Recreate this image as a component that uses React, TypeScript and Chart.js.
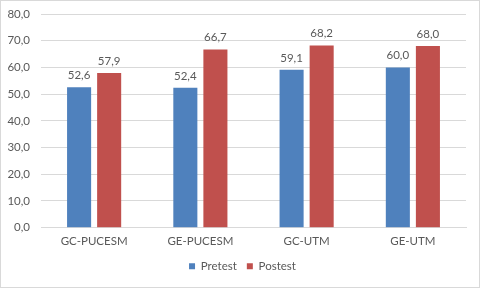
import React, { useEffect, useRef } from "react";
import { Chart, registerables } from "chart.js";

Chart.register(...registerables);

const categories = ["GC-PUCESM", "GE-PUCESM", "GC-UTM", "GE-UTM"];
const pretest = [52.6, 52.4, 59.1, 60.0];
const postest = [57.9, 66.7, 68.2, 68.0];
const seriesNames = ["Pretest", "Postest"];

const FONT = "Lato, 'Open Sans', sans-serif";
const FS = 11.5;
const TEXT = "#595959";
const fmt = (v: number) => v.toFixed(1).replace(".", ",");

const labelsPlugin = {
  id: "valueLabels",
  afterDatasetsDraw(chart: any) {
    const ctx = chart.ctx;
    ctx.save();
    ctx.font = `${FS}px ${FONT}`;
    ctx.fillStyle = TEXT;
    ctx.textAlign = "center";
    ctx.textBaseline = "bottom";
    chart.data.datasets.forEach((ds: any, i: number) => {
      const meta = chart.getDatasetMeta(i);
      meta.data.forEach((bar: any, j: number) => {
        ctx.fillText(fmt(ds.data[j]), bar.x, bar.y - 6);
      });
    });
    ctx.restore();
  },
};

const bgPlugin = {
  id: "bgBorder",
  beforeDraw(chart: any) {
    const ctx = chart.ctx;
    ctx.save();
    ctx.fillStyle = "#ffffff";
    ctx.fillRect(0, 0, chart.width, chart.height);
    ctx.strokeStyle = "#d9d9d9";
    ctx.lineWidth = 1;
    ctx.strokeRect(0.5, 0.5, chart.width - 1, chart.height - 1);
    ctx.restore();
  },
};

// centre the legend on the whole picture rather than the padded box
const legendShiftPlugin = {
  id: "legendShift",
  afterLayout(chart: any) {
    if (chart.legend) chart.legend.left += 19;
  },
};

export default function App() {
  const ref = useRef<HTMLCanvasElement>(null);
  useEffect(() => {
    document.body.style.margin = "0";
    const chart = new Chart(ref.current!, {
      type: "bar",
      data: {
        labels: categories,
        datasets: [
          {
            label: seriesNames[0],
            data: pretest,
            backgroundColor: "#4F81BD",
            categoryPercentage: 0.566,
            barPercentage: 0.8,
          },
          {
            label: seriesNames[1],
            data: postest,
            backgroundColor: "#C0504D",
            categoryPercentage: 0.566,
            barPercentage: 0.8,
          },
        ],
      },
      options: {
        animation: false,
        responsive: false,
        devicePixelRatio: 1,
        layout: { padding: { top: 14, right: 14, left: 0, bottom: 6 } },
        scales: {
          x: {
            grid: { display: false, drawTicks: false },
            border: { display: true, color: "#d9d9d9" },
            afterFit: (s: any) => {
              s.height -= 5;
            },
            ticks: {
              color: TEXT,
              font: { family: FONT, size: FS },
              padding: 7,
            },
          },
          y: {
            min: 0,
            max: 80,
            afterFit: (s: any) => {
              s.width = 41;
              s.paddingTop = 7;
              s.paddingBottom = 7;
            },
            ticks: {
              stepSize: 10,
              color: TEXT,
              font: { family: FONT, size: FS },
              padding: 11,
              callback: (v: any) => fmt(Number(v)),
            },
            grid: { color: "#d9d9d9", drawTicks: false },
            border: { display: false },
          },
        },
        plugins: {
          legend: {
            position: "bottom",
            labels: {
              boxWidth: 6,
              boxHeight: 6,
              color: TEXT,
              font: { family: FONT, size: FS },
              padding: 10,
            },
          },
          tooltip: { enabled: false },
        },
      },
      plugins: [bgPlugin, labelsPlugin, legendShiftPlugin],
    });
    return () => chart.destroy();
  }, []);
  return (
    <div style={{ position: "absolute", left: 0, top: 0 }}>
      <canvas ref={ref} width={480} height={288} />
    </div>
  );
}
